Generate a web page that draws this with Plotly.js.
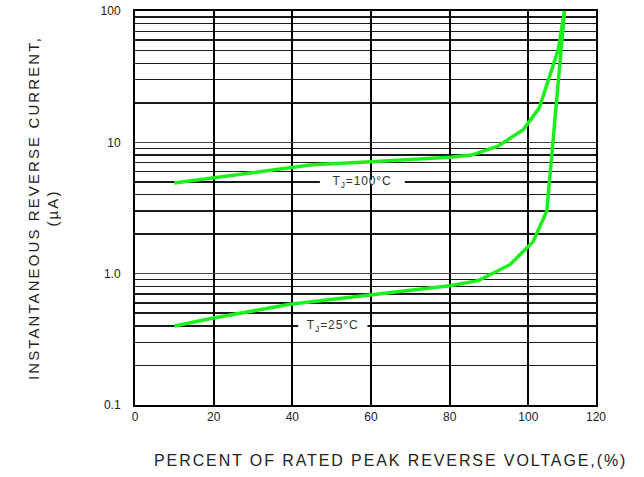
<!DOCTYPE html>
<html>
<head>
<meta charset="utf-8">
<script src="https://cdn.plot.ly/plotly-3.0.1.min.js"></script>
<style>
  html, body { margin: 0; padding: 0; background: #fff; }
  #chart { width: 644px; height: 477px; }
  .ytitle { letter-spacing: 2.1px; }
  .annotation[data-index="0"] text, .annotation[data-index="1"] text { letter-spacing: 0.9px; }
  .annotation[data-index="2"] text { letter-spacing: 1.9px; }
</style>
</head>
<body>
<div id="chart"></div>
<script>
// Percent of rated peak reverse voltage (%)
const voltage100 = [10, 20, 37, 45, 60, 80, 85.6, 92.4, 98.7, 102.8, 107.6, 109.2];
// Instantaneous reverse current (uA) at TJ = 100 C
const current100 = [4.9, 5.35, 6.2, 6.75, 7.1, 7.7, 8.0, 9.4, 12.5, 18.3, 50.8, 100];

const voltage25 = [10, 20, 39.4, 60, 80, 87.3, 95.3, 101.2, 104.7, 109.2];
// Instantaneous reverse current (uA) at TJ = 25 C
const current25 = [0.4, 0.46, 0.585, 0.69, 0.81, 0.885, 1.17, 1.75, 3.0, 100];

const xTickVals = [0, 20, 40, 60, 80, 100, 117.2];
const xTickText = ['0', '20', '40', '60', '80', '100', '120'];

const yTickVals = [0.1, 1, 10, 100];
const yTickText = ['0.1', '1.0', '10', '100'];
const yMinorVals = [0.2,0.3,0.4,0.5,0.6,0.7,0.8,0.9,2,3,4,5,6,7,8,9,20,30,40,50,60,70,80,90];

const labels = ['T<sub>J</sub>=100°C', 'T<sub>J</sub>=25°C'];
const labelX = [57.8, 50.3];
const labelY = [5, 0.4];
const xTitle = 'PERCENT OF RATED PEAK REVERSE VOLTAGE,(%)';
const yTitle = 'INSTANTANEOUS REVERSE CURRENT,<br>(µA)';

const green = '#1cf01c';

const traces = [
  { x: voltage100, y: current100, type: 'scatter', mode: 'lines',
    line: { color: green, width: 3.5 }, hoverinfo: 'skip' },
  { x: voltage25, y: current25, type: 'scatter', mode: 'lines',
    line: { color: green, width: 3.5 }, hoverinfo: 'skip' }
];

const layout = {
  width: 644, height: 477,
  margin: { l: 135, r: 48, t: 11, b: 72 },
  paper_bgcolor: '#fff', plot_bgcolor: '#fff',
  showlegend: false,
  font: { family: 'Liberation Sans, Arial, sans-serif', color: '#222', size: 12 },
  xaxis: {
    range: [0, 117.2],
    tickmode: 'array', tickvals: xTickVals, ticktext: xTickText,
    showgrid: true, gridcolor: '#000', gridwidth: 2,
    zeroline: false,
    showline: true, linecolor: '#000', linewidth: 2, mirror: true,
    ticks: '', ticklen: 0,
    tickfont: { size: 12, color: '#222' }
  },
  yaxis: {
    type: 'log',
    range: [-1, 2],
    tickmode: 'array', tickvals: yTickVals, ticktext: yTickText,
    showgrid: true, gridcolor: '#444', gridwidth: 1.5,
    minor: { tickmode: 'array', tickvals: yMinorVals, showgrid: true,
             gridcolor: '#1a1a1a', gridwidth: 1.5, ticks: '' },
    zeroline: false,
    showline: true, linecolor: '#000', linewidth: 2, mirror: true,
    ticks: '', ticklen: 0,
    ticklabelstandoff: 10,
    tickfont: { size: 12, color: '#222' },
    title: { text: yTitle, font: { size: 15, color: '#222' }, standoff: 38 }
  },
  shapes: labelX.map((lx, i) => ({
    type: 'line', layer: 'between', xref: 'x', yref: 'y',
    x0: lx - (i === 0 ? 10.8 : 8.8), x1: lx + (i === 0 ? 10.8 : 8.8),
    y0: labelY[i], y1: labelY[i],
    line: { color: '#fff', width: 4 }
  })),
  annotations: [
    { x: labelX[0], y: Math.log10(labelY[0]), xref: 'x', yref: 'y', showarrow: false,
      text: labels[0], font: { size: 12, color: '#333' },
      xanchor: 'center', yanchor: 'middle' },
    { x: labelX[1], y: Math.log10(labelY[1]), xref: 'x', yref: 'y', showarrow: false,
      text: labels[1], font: { size: 12, color: '#333' },
      xanchor: 'center', yanchor: 'middle' },
    { x: 0.555, y: -0.14, xref: 'paper', yref: 'paper', showarrow: false,
      text: xTitle, font: { size: 16, color: '#222' },
      xanchor: 'center', yanchor: 'middle' }
  ]
};

Plotly.newPlot('chart', traces, layout, { displayModeBar: false, staticPlot: true });
</script>
</body>
</html>
